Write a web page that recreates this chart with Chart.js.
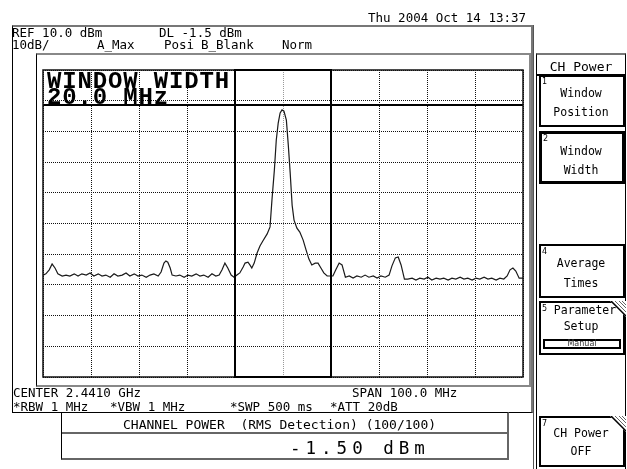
<!DOCTYPE html>
<html><head><meta charset="utf-8">
<script src="https://cdn.jsdelivr.net/npm/chart.js@4"></script>
<style>
html,body{margin:0;padding:0;background:#fff;}
#wrap{position:relative;width:627px;height:469px;overflow:hidden;background:#fff;}
#cw{position:absolute;left:0;top:0;width:627px;height:469px;}
.t{position:absolute;font-family:"DejaVu Sans Mono",monospace;font-size:12.5px;line-height:13px;color:#000;white-space:pre;}
.k{position:absolute;font-family:"DejaVu Sans Mono",monospace;font-size:11.5px;line-height:14px;color:#000;white-space:pre;text-align:center;width:86px;left:538px;}
.n{position:absolute;font-family:"DejaVu Sans",sans-serif;font-size:8px;line-height:9px;color:#000;}
.b{position:absolute;box-sizing:border-box;}
</style></head>
<body>
<div id="wrap">
  <div id="cw"><canvas id="c"></canvas></div>

  <!-- frames -->
  <div class="b" style="left:12px;top:25px;width:521px;height:388px;border-top:2px solid #777;border-left:1px solid #000;border-right:2px solid #777;border-bottom:1px solid #000;"></div>
  <div class="b" style="left:36px;top:53px;width:495px;height:334px;border-top:2px solid #888;border-left:1px solid #000;border-right:2px solid #888;border-bottom:2px solid #888;"></div>
  <div class="b" style="left:533px;top:25px;width:1px;height:444px;background:#555;"></div>
  <div class="b" style="left:536px;top:53px;width:90px;height:420px;border:1px solid #000;border-top:2px solid #777;"></div>

  <!-- header texts -->
  <div class="t" style="left:368px;top:11px;">Thu 2004 Oct 14 13:37</div>
  <div class="t" style="left:12px;top:26px;">REF 10.0 dBm</div>
  <div class="t" style="left:159px;top:26px;">DL -1.5 dBm</div>
  <div class="t" style="left:12px;top:38px;">10dB/</div>
  <div class="t" style="left:97px;top:38px;">A_Max</div>
  <div class="t" style="left:164px;top:38px;">Posi</div>
  <div class="t" style="left:201px;top:38px;">B_Blank</div>
  <div class="t" style="left:282px;top:38px;">Norm</div>

  <!-- window width label -->
  <div style="position:absolute;left:47px;top:74px;font-family:'Liberation Mono',monospace;font-weight:bold;font-size:24px;line-height:16px;letter-spacing:0.85px;white-space:pre;color:#000;">WINDOW WIDTH
20.0 MHz</div>

  <!-- footer texts -->
  <div class="t" style="left:13px;top:386px;">CENTER 2.4410 GHz</div>
  <div class="t" style="left:352px;top:386px;">SPAN 100.0 MHz</div>
  <div class="t" style="left:13px;top:400px;">*RBW 1 MHz</div>
  <div class="t" style="left:110px;top:400px;">*VBW 1 MHz</div>
  <div class="t" style="left:230px;top:400px;">*SWP 500 ms</div>
  <div class="t" style="left:330px;top:400px;">*ATT 20dB</div>

  <!-- channel power box -->
  <div class="b" style="left:61px;top:412px;width:448px;height:48px;border:1px solid #000;border-right:2px solid #666;border-bottom:2px solid #666;"></div>
  <div class="b" style="left:62px;top:432px;width:445px;height:2px;background:#666;"></div>
  <div class="t" style="left:123px;top:418px;font-size:13px;">CHANNEL POWER  (RMS Detection) (100/100)</div>
  <div style="position:absolute;left:290px;top:438px;font-family:'DejaVu Sans Mono',monospace;font-size:17.5px;line-height:20px;letter-spacing:5px;white-space:pre;color:#000;">-1.50 dBm</div>

  <!-- softkeys -->
  <div class="b" style="left:536px;top:74px;width:90px;height:2px;background:#000;"></div>
  <div class="k" style="top:59px;font-size:13px;line-height:15px;">CH Power</div>

  <div class="b" style="left:539px;top:75px;width:86px;height:52px;border:2px solid #000;"></div>
  <div class="n" style="left:542px;top:77px;">1</div>
  <div class="k" style="top:86px;">Window</div>
  <div class="k" style="top:105px;">Position</div>

  <div class="b" style="left:539px;top:131px;width:86px;height:53px;border:3px solid #000;"></div>
  <div class="n" style="left:543px;top:134px;">2</div>
  <div class="k" style="top:144px;">Window</div>
  <div class="k" style="top:163px;">Width</div>

  <div class="b" style="left:539px;top:244px;width:86px;height:54px;border:2px solid #000;"></div>
  <div class="n" style="left:542px;top:247px;">4</div>
  <div class="k" style="top:256px;">Average</div>
  <div class="k" style="top:276px;">Times</div>

  <div class="b" style="left:539px;top:301px;width:86px;height:54px;border:2px solid #000;"></div>
  <div class="n" style="left:542px;top:304px;">5</div>
  <div class="k" style="top:303px;left:542px;">Parameter</div>
  <div class="k" style="top:319px;">Setup</div>
  <div class="b" style="left:543px;top:339px;width:78px;height:10px;border:2px solid #000;"></div>
  <div class="n" style="left:543px;top:339px;width:78px;text-align:center;font-size:8px;line-height:10px;color:#333;">Manual</div>
  <svg style="position:absolute;left:610px;top:301px;" width="16" height="16"><polygon points="0,0 16,0 16,16" fill="#fff"/><line x1="1" y1="0" x2="16" y2="15" stroke="#000" stroke-width="1.5"/><line x1="5" y1="0" x2="16" y2="11" stroke="#666" stroke-width="1"/><line x1="9" y1="0" x2="16" y2="7" stroke="#666" stroke-width="1"/><line x1="12" y1="0" x2="16" y2="4" stroke="#666" stroke-width="1"/></svg>

  <div class="b" style="left:539px;top:416px;width:86px;height:51px;border:2px solid #000;"></div>
  <div class="n" style="left:542px;top:419px;">7</div>
  <div class="k" style="top:426px;">CH Power</div>
  <div class="k" style="top:444px;">OFF</div>
  <svg style="position:absolute;left:610px;top:416px;" width="16" height="16"><polygon points="0,0 16,0 16,16" fill="#fff"/><line x1="1" y1="0" x2="16" y2="15" stroke="#000" stroke-width="1.5"/><line x1="5" y1="0" x2="16" y2="11" stroke="#666" stroke-width="1"/><line x1="9" y1="0" x2="16" y2="7" stroke="#666" stroke-width="1"/><line x1="12" y1="0" x2="16" y2="4" stroke="#666" stroke-width="1"/></svg>
</div>

<script>
const centerMHz = 2441;
const spanMHz = 100;
const refLevelDbm = 10;
const bottomLevelDbm = -90;
const windowWidthMHz = 20;
const displayLineDbm = -1.5;
const xGridMHz = [2391, 2401, 2411, 2421, 2431, 2441, 2451, 2461, 2471, 2481, 2491];
const yGridDbm = [10, 0, -10, -20, -30, -40, -50, -60, -70, -80, -90];

const freqsMHz = [
 2391.0,2391.6,2392.3,2392.9,2393.5,2394.1,2395.0,2395.8,2396.6,2397.5,2398.3,2399.1,2400.0,2400.8,2401.6,2402.5,
 2403.3,2404.1,2405.0,2405.8,2406.6,2407.5,2408.3,2409.1,2410.0,2410.8,2411.6,2412.5,2413.3,2414.1,2415.0,
 2415.6,2416.2,2416.6,2417.0,2417.5,2417.9,
 2418.7,2419.5,2420.4,2421.2,2422.0,2422.9,2423.7,2424.5,2425.4,2426.2,2427.0,
 2427.7,2428.3,2428.9,2429.5,2430.2,2430.8,2431.4,2432.0,2432.7,2433.1,2433.7,2434.1,2434.5,2435.0,2435.6,2436.2,
 2436.8,2437.7,2438.3,2438.7,2439.2,2439.6,2440.0,2440.4,2440.8,2441.2,2441.7,2442.1,2442.5,2442.9,2443.3,2443.9,
 2444.5,2445.2,2445.8,2446.4,2447.0,2447.7,2448.3,2448.9,2449.5,2450.2,2450.8,2451.4,2452.0,2452.7,2453.3,2454.0,
 2454.8,2455.6,2456.4,2457.3,2458.1,2458.9,2459.8,2460.6,2461.4,2462.3,2463.1,
 2463.7,2464.4,2465.0,2465.6,2466.3,
 2467.0,2467.9,2468.7,2469.5,2470.4,2471.2,2472.0,2472.9,2473.7,2474.5,2475.4,2476.2,2477.0,2477.9,2478.7,2479.5,
 2480.4,2481.2,2482.0,2482.9,2483.7,2484.5,2485.4,2486.2,2487.0,
 2487.7,2488.3,2488.9,2489.5,2490.2,2491.0
];
const levelsDbm = [
 -56.8,-56.4,-55.1,-53.2,-54.5,-56.4,-57.1,-56.8,-57.1,-56.4,-57.1,-56.4,-56.8,-56.1,-57.1,-56.4,
 -57.1,-56.8,-57.5,-56.4,-57.1,-56.8,-56.1,-57.1,-56.4,-57.1,-56.8,-57.5,-56.8,-56.4,-57.1,
 -55.8,-52.9,-52.2,-52.6,-54.5,-56.8,
 -57.1,-56.8,-57.5,-56.8,-57.1,-56.4,-57.1,-56.8,-57.5,-56.4,-57.1,
 -56.8,-55.1,-52.9,-54.5,-56.8,-57.5,-56.8,-56.1,-54.2,-52.9,-52.6,-53.5,-54.5,-52.9,-49.6,-47.3,
 -45.7,-43.4,-41.1,-32.3,-22.6,-12.8,-7.3,-4.0,-3.0,-3.4,-6.3,-14.4,-23.6,-34.0,-38.9,-41.5,
 -42.8,-45.4,-48.6,-51.6,-53.5,-52.9,-52.9,-54.5,-56.1,-57.1,-57.1,-57.1,-55.1,-52.9,-53.5,-57.5,
 -57.1,-57.8,-57.1,-57.5,-56.8,-57.5,-57.1,-57.8,-57.1,-57.5,-56.8,
 -53.8,-51.2,-50.9,-53.5,-58.1,
 -58.1,-57.8,-58.4,-57.8,-58.1,-57.5,-58.4,-57.8,-58.1,-57.8,-58.4,-57.8,-58.1,-57.5,-58.1,-57.8,
 -58.4,-57.8,-58.1,-57.5,-58.1,-57.8,-58.4,-57.8,-58.1,
 -57.1,-55.1,-54.5,-55.5,-57.8,-57.8
];

// ---- drawing ----
const overlay = {
  id: 'overlay',
  afterDatasetsDraw(chart) {
    const {ctx, chartArea: a, scales: {x, y}} = chart;
    ctx.save();
    const yd = Math.round(y.getPixelForValue(displayLineDbm));
    ctx.fillStyle = '#000';
    ctx.fillRect(a.left, yd - 1, a.right - a.left, 2);
    ctx.strokeStyle = '#111';
    ctx.lineWidth = 1.5;
    ctx.strokeRect(a.left, a.top, a.right - a.left, a.bottom - a.top);
    const x1 = Math.round(x.getPixelForValue(centerMHz - windowWidthMHz / 2));
    const x2 = Math.round(x.getPixelForValue(centerMHz + windowWidthMHz / 2));
    ctx.lineWidth = 2;
    ctx.strokeStyle = '#000';
    ctx.strokeRect(x1, a.top, x2 - x1, a.bottom - a.top);
    ctx.restore();
  }
};

new Chart(document.getElementById('c'), {
  type: 'line',
  data: {
    datasets: [{
      data: freqsMHz.map((f, i) => ({x: f, y: levelsDbm[i]})),
      borderColor: '#1a1a1a',
      borderWidth: 1.2,
      pointRadius: 0,
      tension: 0,
      fill: false
    }]
  },
  options: {
    responsive: true,
    maintainAspectRatio: false,
    animation: false,
    events: [],
    layout: {padding: {left: 43, top: 70, right: 104, bottom: 92}},
    plugins: {legend: {display: false}, tooltip: {enabled: false}},
    scales: {
      x: {
        type: 'linear',
        min: centerMHz - spanMHz / 2,
        max: centerMHz + spanMHz / 2,
        afterBuildTicks: s => { s.ticks = xGridMHz.map(v => ({value: v})); },
        ticks: {display: false},
        grid: {drawTicks: false, lineWidth: 1,
               color: c => (c.tick && c.tick.value === centerMHz) ? '#999' : '#111'},
        border: {display: false, dash: [1, 1]}
      },
      y: {
        type: 'linear',
        min: bottomLevelDbm,
        max: refLevelDbm,
        afterBuildTicks: s => { s.ticks = yGridDbm.map(v => ({value: v})); },
        ticks: {display: false},
        grid: {drawTicks: false, lineWidth: 1, color: '#111'},
        border: {display: false, dash: [1, 1]}
      }
    }
  },
  plugins: [overlay]
});
</script>
</body></html>
